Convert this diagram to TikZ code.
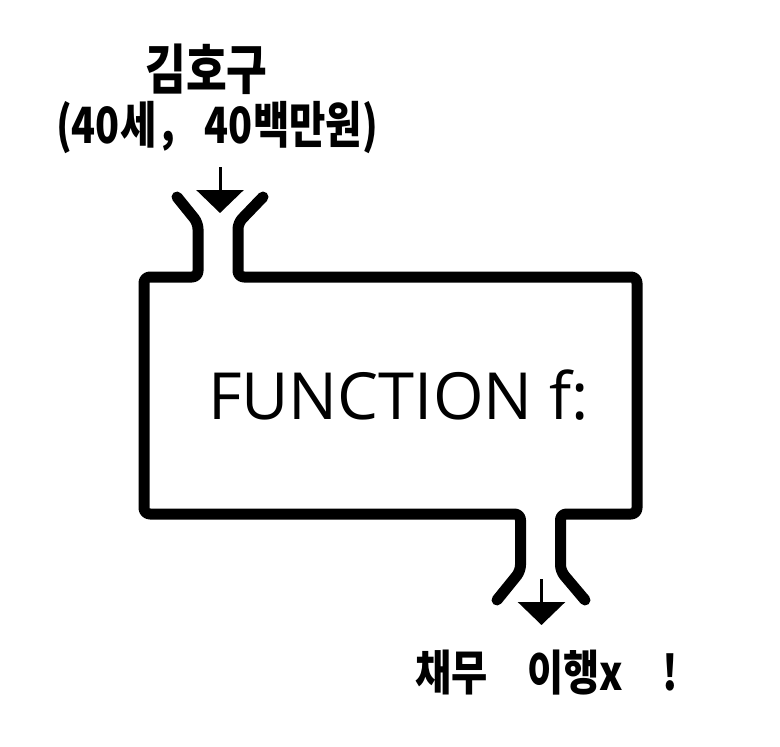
\documentclass[tikz,border=0pt]{standalone}
\usepackage{fontspec}
\setmainfont{Open Sans}
\newfontfamily\krfont{Noto Sans CJK KR}
\usetikzlibrary{arrows.meta}
\tikzset{
  outline/.style={line width=11pt, line cap=round, line join=round, rounded corners=6pt},
  flowarrow/.style={line width=3pt, -{Triangle[length=23pt,width=47pt]}},
  krlabel/.style={inner sep=0pt},
}
\begin{document}
\begin{tikzpicture}[x=1pt,y=-1pt]
\useasboundingbox (0,0) rectangle (780,747);
% labels
\node[krlabel, font=\krfont\bfseries\fontsize{54}{58}\selectfont] (name) at (206.5,69) {\scalebox{0.82}[1]{김호구}};
\node[krlabel, font=\krfont\bfseries\fontsize{50}{54}\selectfont] (info) at (217,128) {\scalebox{0.79}[1]{(40세， 40백만원)}};
\node[krlabel, font=\krfont\bfseries\fontsize{48}{52}\selectfont] (result) at (547,673) {\scalebox{0.82}[1]{채무　이행x　!}};
\node[anchor=base, inner sep=0pt, font=\fontsize{65}{70}\selectfont] (fn) at (398.5,419) {FUNCTION f:};
% outline
\draw[outline] (177,197) -- (198,223) -- (198,277) -- (144,277) -- (144,514) -- (520.5,514) -- (520.5,571) -- (497,600);
\draw[outline] (263,197) -- (238,223) -- (238,277) -- (637,277) -- (637,514) -- (560.5,514) -- (560.5,571) -- (585,600);
% arrows
\coordinate (inTip) at (220,213);
\coordinate (outStart) at (541.5,579);
\coordinate (outTip) at (541.5,625);
\draw[flowarrow] (info.south -| inTip) ++(0,13) -- (inTip);
\draw[flowarrow] (outStart) -- (outTip);
\end{tikzpicture}
\end{document}
